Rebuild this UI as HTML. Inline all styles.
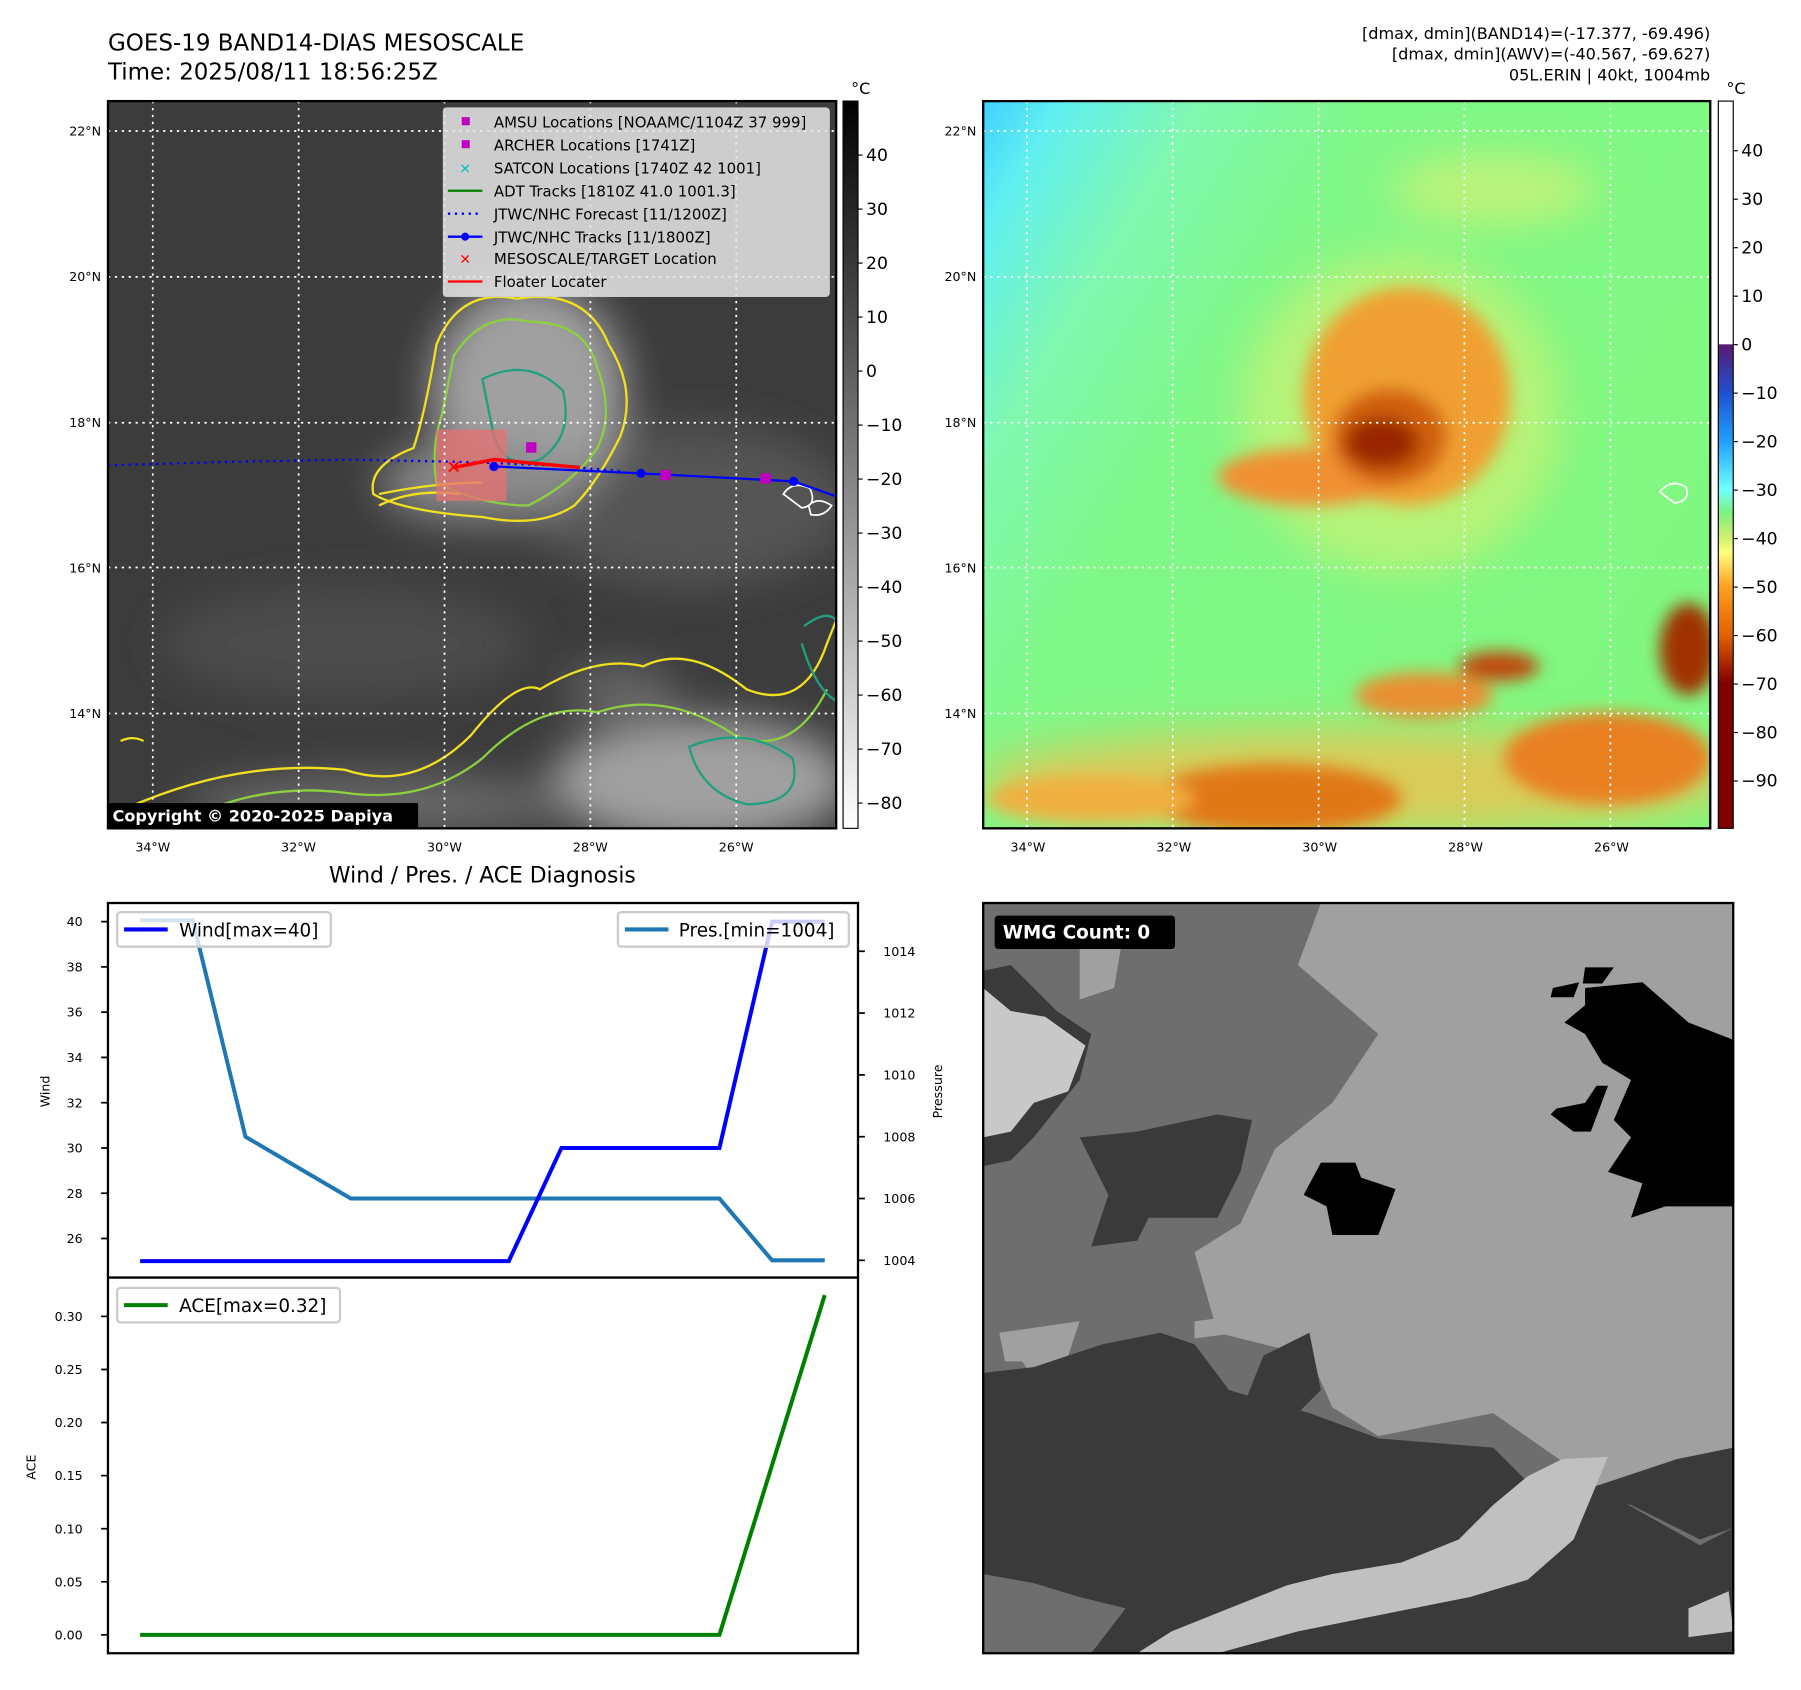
<!DOCTYPE html>
<html><head><meta charset="utf-8">
<style>
html,body{margin:0;padding:0;background:#fff;}
svg{display:block;font-family:"DejaVu Sans","Liberation Sans",sans-serif;}
</style></head>
<body>
<svg id="fig" width="1801" height="1690" viewBox="0 0 1568 1471" preserveAspectRatio="none" xmlns="http://www.w3.org/2000/svg">
<defs>
  <filter id="b8" x="-30%" y="-30%" width="160%" height="160%"><feGaussianBlur stdDeviation="7"/></filter>
  <filter id="b20" x="-30%" y="-30%" width="160%" height="160%"><feGaussianBlur stdDeviation="18"/></filter>
  <clipPath id="cl"><rect x="94" y="88" width="634" height="633"/></clipPath>
  <clipPath id="cr"><rect x="856" y="88" width="633" height="633"/></clipPath>
  <clipPath id="cg"><rect x="856" y="786" width="653" height="653"/></clipPath>
  <linearGradient id="gcb" x1="0" y1="0" x2="0" y2="1"><stop offset="0" stop-color="#000"/><stop offset="1" stop-color="#fff"/></linearGradient>
  <linearGradient id="ccb" x1="0" y1="0" x2="0" y2="1">
    <stop offset="0" stop-color="#fff"/><stop offset="0.334" stop-color="#fff"/>
    <stop offset="0.335" stop-color="#5a1a70"/><stop offset="0.401" stop-color="#2050d0"/>
    <stop offset="0.468" stop-color="#20a0ff"/><stop offset="0.534" stop-color="#70ffff"/>
    <stop offset="0.567" stop-color="#80f080"/><stop offset="0.6" stop-color="#d0f070"/>
    <stop offset="0.62" stop-color="#ffff80"/><stop offset="0.668" stop-color="#ffa020"/>
    <stop offset="0.735" stop-color="#e06000"/><stop offset="0.8" stop-color="#800000"/>
    <stop offset="1" stop-color="#800000"/></linearGradient>
  <linearGradient id="cyan" x1="0" y1="0" x2="1" y2="0.6">
    <stop offset="0" stop-color="#40d0ff"/><stop offset="0.08" stop-color="#60f0f0"/><stop offset="0.22" stop-color="#80f8b0"/><stop offset="0.4" stop-color="#80f888"/><stop offset="1" stop-color="#80f880"/></linearGradient>
</defs>

<text x="94" y="44" font-size="20">GOES-19 BAND14-DIAS MESOSCALE</text>
<text x="94" y="69" font-size="20">Time: 2025/08/11 18:56:25Z</text>
<g font-size="14" text-anchor="end">
<text x="1489" y="34">[dmax, dmin](BAND14)=(-17.377, -69.496)</text>
<text x="1489" y="52">[dmax, dmin](AWV)=(-40.567, -69.627)</text>
<text x="1489" y="70">05L.ERIN | 40kt, 1004mb</text>
</g>

<g clip-path="url(#cl)">
  <rect x="94" y="88" width="634" height="633" fill="#3c3c3c"/>
  <g filter="url(#b20)">
    <ellipse cx="600" cy="440" rx="140" ry="70" fill="#545454"/>
    <ellipse cx="300" cy="560" rx="160" ry="50" fill="#4c4c4c"/>
    <ellipse cx="460" cy="340" rx="85" ry="95" fill="#a0a0a0"/>
    <ellipse cx="420" cy="420" rx="90" ry="35" fill="#8a8a8a"/>
    <ellipse cx="610" cy="680" rx="130" ry="55" fill="#a0a0a0"/>
    <ellipse cx="330" cy="700" rx="170" ry="25" fill="#6a6a6a"/>
    <ellipse cx="540" cy="600" rx="50" ry="20" fill="#6a6a6a"/>
  </g>
  <g fill="none" stroke-width="2">
    <path d="M380,300 Q400,250 450,260 Q510,250 530,300 Q555,340 540,380 Q520,420 500,440 Q470,460 420,450 Q350,445 325,430 Q320,405 360,390 Q370,360 380,300Z" stroke="#f0e020"/>
    <path d="M395,310 Q420,270 460,280 Q510,280 520,320 Q535,360 520,390 Q500,420 460,440 Q420,440 380,420 Q375,390 385,360Z" stroke="#8cd040"/>
    <path d="M420,330 Q460,310 490,340 Q500,380 470,400 Q440,410 430,380Z" stroke="#20a080"/>
    <path d="M330,440 Q360,425 400,430 M330,430 Q380,420 420,420" stroke="#f0e020"/>
    <path d="M96,710 Q200,660 300,670 Q360,690 410,640 Q450,590 470,600 Q520,570 560,580 Q600,560 650,600 Q700,620 720,560 L728,540" stroke="#f0e020"/>
    <path d="M150,720 Q220,680 300,690 Q370,700 420,660 Q470,610 520,620 Q580,600 640,640 Q690,660 720,600" stroke="#8cd040"/>
    <path d="M600,650 Q650,630 690,660 Q700,700 650,700 Q610,690 600,650Z" stroke="#20a080"/>
    <path d="M700,545 Q720,530 728,540 M698,560 Q710,600 728,610" stroke="#20a080"/>
    <path d="M105,645 Q115,640 125,645" stroke="#f0e020"/>
  </g>
  <rect x="380" y="374" width="61" height="62" fill="#e87070" opacity="0.75"/>
  <path d="M682,430 Q690,418 705,425 Q712,440 698,442Z M704,440 Q712,432 724,440 Q718,450 706,448Z" fill="none" stroke="#fff" stroke-width="1.5"/>
  <g stroke="#fff" stroke-width="1.5" stroke-dasharray="2,4">
    <line x1="133" y1="88" x2="133" y2="721"/><line x1="260" y1="88" x2="260" y2="721"/><line x1="387" y1="88" x2="387" y2="721"/><line x1="514" y1="88" x2="514" y2="721"/><line x1="641" y1="88" x2="641" y2="721"/>
    <line x1="94" y1="114" x2="728" y2="114"/><line x1="94" y1="241" x2="728" y2="241"/><line x1="94" y1="368" x2="728" y2="368"/><line x1="94" y1="494" x2="728" y2="494"/><line x1="94" y1="621" x2="728" y2="621"/>
  </g>
  <polyline points="94,405 200,402 305,400 400,402 480,405 540,410" fill="none" stroke="#0000ff" stroke-width="2" stroke-dasharray="2,4"/>
  <polyline points="430,406 558,412 691,419 728,432" fill="none" stroke="#0000ff" stroke-width="2"/>
  <g fill="#0000ff"><circle cx="430" cy="406" r="4"/><circle cx="558" cy="412" r="4"/><circle cx="691" cy="419" r="4"/></g>
  <polyline points="395,407 430,400 505,407" fill="none" stroke="#ff0000" stroke-width="3"/>
  <g fill="#c000c0"><rect x="458" y="385" width="9" height="9"/><rect x="575" y="409" width="9" height="9"/><rect x="662" y="412" width="9" height="9"/></g>
  <text x="395" y="412" fill="#ff0000" font-size="16" font-weight="bold" text-anchor="middle">✕</text>
</g>
<rect x="94" y="88" width="634" height="633" fill="none" stroke="#000" stroke-width="2"/>
<g font-size="13">
  <rect x="386" y="94" width="336" height="164" rx="3" fill="#e6e6e6" fill-opacity="0.85" stroke="#ccc"/>
  <rect x="402" y="102" width="7" height="7" fill="#c000c0"/><text x="430" y="111">AMSU Locations [NOAAMC/1104Z 37 999]</text>
  <rect x="402" y="122" width="7" height="7" fill="#c000c0"/><text x="430" y="131">ARCHER Locations [1741Z]</text>
  <text x="405" y="151" fill="#00c0c0" text-anchor="middle" font-size="12" font-weight="bold">✕</text><text x="430" y="151">SATCON Locations [1740Z 42 1001]</text>
  <line x1="390" y1="166" x2="420" y2="166" stroke="#008000" stroke-width="2"/><text x="430" y="171">ADT Tracks [1810Z 41.0 1001.3]</text>
  <line x1="390" y1="186" x2="420" y2="186" stroke="#0000ff" stroke-width="2" stroke-dasharray="2,4"/><text x="430" y="191">JTWC/NHC Forecast [11/1200Z]</text>
  <line x1="390" y1="206" x2="420" y2="206" stroke="#0000ff" stroke-width="2"/><circle cx="405" cy="206" r="3.5" fill="#0000ff"/><text x="430" y="211">JTWC/NHC Tracks [11/1800Z]</text>
  <text x="405" y="230" fill="#ff0000" text-anchor="middle" font-size="12" font-weight="bold">✕</text><text x="430" y="230">MESOSCALE/TARGET Location</text>
  <line x1="390" y1="245" x2="420" y2="245" stroke="#ff0000" stroke-width="2"/><text x="430" y="250">Floater Locater</text>
</g>
<g>
  <rect x="94" y="699" width="270" height="22" fill="#000"/>
  <text x="98" y="715" fill="#fff" font-size="14" font-weight="bold">Copyright © 2020-2025 Dapiya</text>
</g>
<g>
  <rect x="734" y="88" width="13" height="633" fill="url(#gcb)" stroke="#000" stroke-width="1"/>
  <text x="741" y="82" font-size="14">°C</text>
  <g font-size="15" id="lcbt"></g>
</g>
<g clip-path="url(#cr)">
  <rect x="856" y="88" width="633" height="633" fill="url(#cyan)"/>
  <g filter="url(#b20)">
    <ellipse cx="1180" cy="680" rx="330" ry="45" fill="#f0c050" opacity="0.8"/>
    <ellipse cx="1220" cy="360" rx="140" ry="140" fill="#d8f070" opacity="0.6"/>
    <ellipse cx="1300" cy="165" rx="90" ry="30" fill="#e8f070" opacity="0.6"/>
  </g>
  <g filter="url(#b8)">
    <ellipse cx="1225" cy="345" rx="90" ry="95" fill="#f0a030"/>
    <ellipse cx="1140" cy="415" rx="80" ry="25" fill="#f09030"/>
    <ellipse cx="1210" cy="380" rx="50" ry="42" fill="#d06010"/>
    <ellipse cx="1203" cy="385" rx="32" ry="22" fill="#9a2800"/>
    <ellipse cx="1110" cy="695" rx="110" ry="30" fill="#e07818"/>
    <ellipse cx="1400" cy="660" rx="90" ry="40" fill="#e88020"/>
    <ellipse cx="1240" cy="605" rx="60" ry="20" fill="#e89030"/>
    <ellipse cx="1470" cy="565" rx="25" ry="40" fill="#a03000"/>
    <ellipse cx="950" cy="695" rx="90" ry="20" fill="#f0b040"/>
    <ellipse cx="1305" cy="580" rx="35" ry="13" fill="#c04808"/>
  </g>
  <g stroke="#fff" stroke-width="1.5" stroke-dasharray="2,4">
    <line x1="894" y1="88" x2="894" y2="721"/><line x1="1021" y1="88" x2="1021" y2="721"/><line x1="1148" y1="88" x2="1148" y2="721"/><line x1="1275" y1="88" x2="1275" y2="721"/><line x1="1402" y1="88" x2="1402" y2="721"/>
    <line x1="856" y1="114" x2="1489" y2="114"/><line x1="856" y1="241" x2="1489" y2="241"/><line x1="856" y1="368" x2="1489" y2="368"/><line x1="856" y1="494" x2="1489" y2="494"/><line x1="856" y1="621" x2="1489" y2="621"/>
  </g>
  <path d="M1445,428 Q1455,416 1468,424 Q1472,436 1458,438Z" fill="none" stroke="#fff" stroke-width="1.5"/>
</g>
<rect x="856" y="88" width="633" height="633" fill="none" stroke="#000" stroke-width="2"/>
<g>
  <rect x="1496" y="88" width="13" height="633" fill="url(#ccb)" stroke="#000" stroke-width="1"/>
  <text x="1503" y="82" font-size="14">°C</text>
  <g font-size="15" id="rcbt"></g>
</g>
<g font-size="11" id="mapticks"></g>

<text x="420" y="768" font-size="19" text-anchor="middle">Wind / Pres. / ACE Diagnosis</text>
<g id="chart"></g>
<rect x="94" y="786" width="653" height="653" fill="none" stroke="#000" stroke-width="2"/>
<line x1="94" y1="1112" x2="747" y2="1112" stroke="#000" stroke-width="2"/>
<text transform="translate(43,950) rotate(-90)" font-size="11" text-anchor="middle">Wind</text>
<text transform="translate(820,950) rotate(-90)" font-size="11" text-anchor="middle">Pressure</text>
<text transform="translate(31,1277) rotate(-90)" font-size="11" text-anchor="middle">ACE</text>
<g>
  <rect x="102" y="794" width="186" height="30" rx="3" fill="#fff" fill-opacity="0.8" stroke="#ccc" stroke-width="2"/>
  <line x1="108" y1="809" x2="146" y2="809" stroke="#0000ff" stroke-width="3.5"/>
  <text x="156" y="815" font-size="16">Wind[max=40]</text>
</g>
<g>
  <rect x="538" y="794" width="201" height="30" rx="3" fill="#fff" fill-opacity="0.8" stroke="#ccc" stroke-width="2"/>
  <line x1="544" y1="809" x2="582" y2="809" stroke="#1f77b4" stroke-width="3.5"/>
  <text x="591" y="815" font-size="16">Pres.[min=1004]</text>
</g>
<g>
  <rect x="102" y="1121" width="194" height="30" rx="3" fill="#fff" fill-opacity="0.8" stroke="#ccc" stroke-width="2"/>
  <line x1="108" y1="1136" x2="146" y2="1136" stroke="#008000" stroke-width="3.5"/>
  <text x="156" y="1142" font-size="16">ACE[max=0.32]</text>
</g>

<g clip-path="url(#cg)">
  <rect x="856" y="786" width="653" height="653" fill="#6e6e6e"/>
  <polygon fill="#a0a0a0" points="1150,786 1509,786 1509,1330 1480,1340 1400,1300 1300,1230 1200,1250 1160,1225 1140,1180 1060,1160 1040,1090 1080,1065 1110,1000 1160,960 1200,900 1130,840"/>
  <polygon fill="#a0a0a0" points="940,800 980,800 970,860 940,870"/>
  <polygon fill="#a0a0a0" points="870,1160 940,1150 930,1180 900,1200 890,1185 875,1185"/>
  <polygon fill="#a0a0a0" points="1040,1150 1080,1145 1078,1160 1040,1165"/>
  <polygon fill="#3a3a3a" points="856,1195 900,1190 930,1180 960,1170 1010,1160 1040,1170 1070,1210 1140,1230 1200,1252 1300,1260 1330,1290 1400,1300 1480,1345 1509,1330 1509,1439 856,1439"/>
  <polygon fill="#3a3a3a" points="1100,1180 1140,1160 1150,1210 1120,1240 1080,1230"/>
  <polygon fill="#3a3a3a" points="1370,1300 1460,1270 1509,1260 1509,1330 1480,1340 1420,1310"/>
  <polygon fill="#3a3a3a" points="856,845 880,840 920,880 950,900 940,940 900,990 880,1010 856,1015"/>
  <polygon fill="#3a3a3a" points="940,990 990,985 1060,970 1090,975 1080,1020 1060,1060 1000,1060 990,1080 950,1085 965,1040"/>
  <polygon fill="#c8c8c8" points="856,860 880,880 910,885 945,910 930,950 900,960 880,985 856,990"/>
  <polygon fill="#c0c0c0" points="990,1439 1020,1420 1070,1400 1120,1380 1160,1370 1220,1360 1270,1340 1300,1310 1330,1285 1360,1270 1400,1268 1370,1340 1330,1375 1280,1390 1230,1400 1180,1410 1130,1420 1060,1439"/>
  <polygon fill="#c0c0c0" points="1470,1400 1505,1385 1509,1420 1470,1425"/>
  <polygon fill="#6e6e6e" points="856,1370 900,1378 940,1390 980,1400 950,1439 856,1439"/>
  <polygon fill="#000" points="1380,860 1430,855 1470,890 1509,905 1509,1050 1450,1050 1420,1060 1430,1030 1400,1020 1420,990 1405,975 1420,940 1395,925 1380,900 1362,890 1380,875"/>
  <polygon fill="#000" points="1135,1040 1150,1012 1180,1012 1185,1025 1215,1035 1200,1075 1160,1075 1155,1050"/>
  <polygon fill="#000" points="1352,860 1375,855 1370,868 1350,868"/>
  <polygon fill="#000" points="1380,842 1405,842 1395,856 1378,856"/>
  <polygon fill="#000" points="1355,965 1380,960 1390,945 1400,945 1385,985 1370,985 1350,970"/>
</g>
<rect x="856" y="786" width="653" height="653" fill="none" stroke="#000" stroke-width="2"/>
<g>
  <rect x="866" y="797" width="157" height="29" rx="3" fill="#000"/>
  <text x="873" y="817" fill="#fff" font-size="16" font-weight="bold">WMG Count: 0</text>
</g>

<script>
const timeIdx = [0,1,2,3,4,5,6,7,8,9,10,11,12,13];
const windVals = [25,25,25,25,25,25,25,25,30,30,30,30,40,40];
const presVals = [1015,1015,1008,1007,1006,1006,1006,1006,1006,1006,1006,1006,1004,1004];
const aceVals = [0,0,0,0,0,0,0,0,0,0,0,0,0.16,0.32];
const windTicks = [26,28,30,32,34,36,38,40];
const presTicks = [1004,1006,1008,1010,1012,1014];
const aceTicks = [0,0.05,0.10,0.15,0.20,0.25,0.30];
const irCbTicks = [40,30,20,10,0,-10,-20,-30,-40,-50,-60,-70,-80];
const awvCbTicks = [40,30,20,10,0,-10,-20,-30,-40,-50,-60,-70,-80,-90];
const latTicks = [22,20,18,16,14];
const lonTicks = [34,32,30,28,26];

const NS='http://www.w3.org/2000/svg';
function mk(tag, attrs, parent){const e=document.createElementNS(NS,tag);for(const k in attrs)e.setAttribute(k,attrs[k]);parent.appendChild(e);return e;}
const xS = i => 122 + i*45.85;
const yWind = v => 1078 - (v-26)*19.7;
const yPres = v => 1097 - (v-1004)*26.9;
const yAce = v => 1423 - v*924;
const chart=document.getElementById('chart');

windTicks.forEach(t=>{const y=yWind(t);
  const l=mk('line',{x1:88,y1:y,x2:94,y2:y,stroke:'#000','stroke-width':1.5},chart);
  
  
  const tx=mk('text',{x:72,y:y+4,'font-size':11,'text-anchor':'end'},chart);tx.textContent=t;
  
  });
presTicks.forEach(t=>{const y=yPres(t);
  const l=mk('line',{x1:747,y1:y,x2:753,y2:y,stroke:'#000','stroke-width':1.5},chart);
  
  
  const tx=mk('text',{x:769,y:y+4,'font-size':11},chart);tx.textContent=t;
  
  });
aceTicks.forEach(t=>{const y=yAce(t);
  const l=mk('line',{x1:88,y1:y,x2:94,y2:y,stroke:'#000','stroke-width':1.5},chart);
  
  
  const tx=mk('text',{x:72,y:y+4,'font-size':11,'text-anchor':'end'},chart);tx.textContent=t.toFixed(2);
  
  });

const pp=mk('polyline',{points:timeIdx.map(i=>xS(i)+','+yPres(presVals[i])).join(' '),fill:'none',stroke:'#1f77b4','stroke-width':3.5},chart);


const wp=mk('polyline',{points:timeIdx.map(i=>xS(i)+','+yWind(windVals[i])).join(' '),fill:'none',stroke:'#0000ff','stroke-width':3.5},chart);


const ap=mk('polyline',{points:timeIdx.map(i=>xS(i)+','+yAce(aceVals[i])).join(' '),fill:'none',stroke:'#008000','stroke-width':3.5},chart);



const lcb=document.getElementById('lcbt');
irCbTicks.forEach(t=>{const y=323-t*4.7;
  mk('line',{x1:747,y1:y,x2:751,y2:y,stroke:'#000'},lcb);
  const tx=mk('text',{x:754,y:y+5},lcb);tx.textContent=(t<0?'\u2212'+(-t):t);
  
  });
const rcb=document.getElementById('rcbt');
awvCbTicks.forEach(t=>{const y=300-t*4.22;
  mk('line',{x1:1509,y1:y,x2:1513,y2:y,stroke:'#000'},rcb);
  const tx=mk('text',{x:1516,y:y+5},rcb);tx.textContent=(t<0?'\u2212'+(-t):t);
  
  });
const mt=document.getElementById('mapticks');
[94,856].forEach(x0=>{
  latTicks.forEach((la,i)=>{const y=114+i*126.75;
    const tx=mk('text',{x:x0-6,y:y+4,'text-anchor':'end'},mt);tx.textContent=la+'°N';
    
    });
  lonTicks.forEach((lo,i)=>{const x=x0+39+i*127;
    const tx=mk('text',{x:x,y:741,'text-anchor':'middle'},mt);tx.textContent=lo+'°W';
    
    });
});
</script>
</svg>
</body></html>
